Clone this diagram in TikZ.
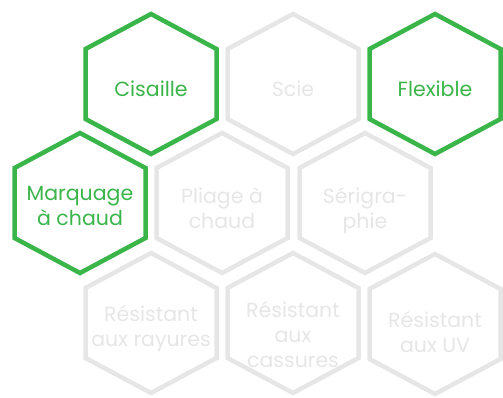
\documentclass[tikz,border=0pt]{standalone}
\usepackage{fontspec}
\setmainfont{Poppins}
\usepackage{tikz}
\definecolor{activeColor}{RGB}{58,181,74}
\definecolor{idleColor}{RGB}{230,230,230}

% hexagon (pointy top) around a centre point
\newcommand{\hexagon}[2]{%
  \draw[#1] (#2) ++(0,-70) -- ++(65.5,35) -- ++(0,70) -- ++(-65.5,35)
    -- ++(-65.5,-35) -- ++(0,-70) -- cycle;}

\begin{document}
\begin{tikzpicture}[x=1pt,y=-1pt]

          \tikzstyle{activeNode} = [activeColor, align=center, inner sep=0pt, font=\fontsize{20.5}{25}\selectfont];
          \tikzstyle{idleNode} = [idleColor, align=center, inner sep=0pt, font=\fontsize{20.5}{25}\selectfont];

          \tikzstyle{activeEdge} = [line width=4.5pt, activeColor];
          \tikzstyle{idleEdge} = [line width=4.5pt, idleColor];

          \useasboundingbox (0,0) rectangle (503,398);

          \hexagon{idleEdge}{293,84}
          \hexagon{idleEdge}{222,203}
          \hexagon{idleEdge}{365,203}
          \hexagon{idleEdge}{151,323}
          \hexagon{idleEdge}{293,323}
          \hexagon{idleEdge}{435,324}
          \hexagon{activeEdge}{151,84}
          \hexagon{activeEdge}{435,84}
          \hexagon{activeEdge}{80,203}

          \node[activeNode] (cisaille) at (151,88.5) {Cisaille};
          \node[idleNode] (scie) at (293,88.5) {Scie};
          \node[activeNode] (flexible) at (435,88.5) {Flexible};
          \node[activeNode] (marquage) at (80,206) {Marquage\\à chaud};
          \node[idleNode] (pliage) at (222,208) {Pliage à\\chaud};
          \node[idleNode] (serigraphie) at (365,210.5) {Sérigra-\\phie};
          \node[idleNode] (rayures) at (151,329) {Résistant\\aux rayures};
          \node[idleNode] (cassures) at (293,335) {Résistant\\aux\\cassures};
          \node[idleNode] (uv) at (435,332) {Résistant\\aux UV};
        \end{tikzpicture}
\end{document}
